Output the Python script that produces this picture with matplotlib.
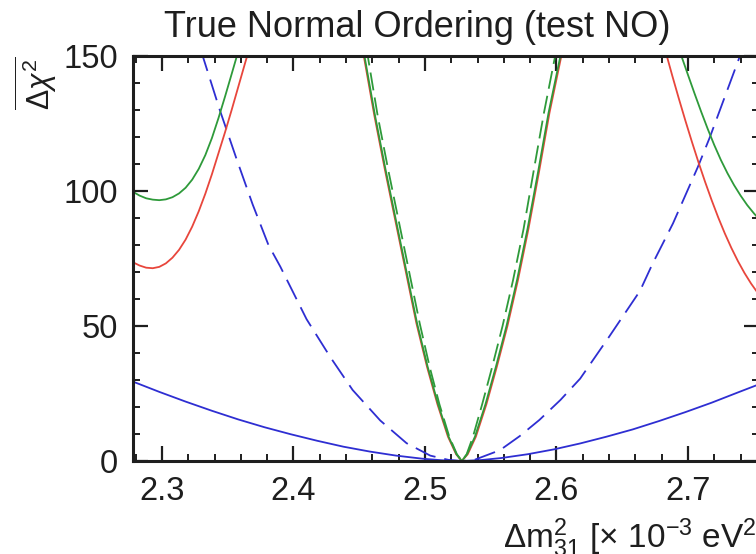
import matplotlib
matplotlib.use("Agg")
import matplotlib.pyplot as plt
from matplotlib.ticker import MultipleLocator

plt.rcParams["font.family"] = ["Liberation Sans", "DejaVu Sans"]
plt.rcParams["mathtext.fontset"] = "custom"
plt.rcParams["mathtext.rm"] = "Liberation Sans"
plt.rcParams["mathtext.it"] = "Liberation Sans:italic"
plt.rcParams["mathtext.bf"] = "Liberation Sans:bold"

# blue solid
blue_x = [2.278, 2.298, 2.318, 2.338, 2.358, 2.378, 2.398, 2.418, 2.438, 2.458,
          2.478, 2.498, 2.513, 2.528, 2.543, 2.558, 2.578, 2.598, 2.618, 2.638,
          2.658, 2.678, 2.698, 2.718, 2.738, 2.754]
blue_y = [29.4, 25.6, 22.0, 18.6, 15.4, 12.5, 9.9, 7.5, 5.3, 3.5,
          2.0, 0.85, 0.27, 0.0, 0.36, 1.1, 2.5, 4.3, 6.5, 9.0,
          11.7, 14.8, 18.1, 21.6, 25.4, 28.4]

# blue dashed
blued_x = [2.329, 2.331, 2.344, 2.357, 2.369, 2.381, 2.390, 2.410, 2.428, 2.445,
           2.466, 2.486, 2.504, 2.518, 2.528, 2.538, 2.557, 2.572, 2.587, 2.603,
           2.618, 2.640, 2.6635, 2.673, 2.6886, 2.7076, 2.7167, 2.7395, 2.741]
blued_y = [152, 150, 130, 111.5, 95, 80, 72, 52.5, 38.5, 26.3,
           15, 6.6, 2.0, 0.4, 0.0, 0.5, 4.0, 9.2, 15.2, 22.6,
           30.5, 46, 63, 73, 88, 109, 120, 150, 152]

# red solid: left lobe, central dip, right lobe
red_left_x = [2.278, 2.283, 2.288, 2.293, 2.298, 2.303, 2.308, 2.313, 2.318, 2.323,
              2.328, 2.333, 2.338, 2.343, 2.348, 2.353, 2.358, 2.363, 2.366]
red_left_y = [73.6, 72.4, 71.6, 71.4, 71.9, 73.2, 75.3, 78.2, 82.0, 86.8,
              92.5, 99.0, 106.2, 114.0, 121.8, 130.0, 138.5, 147.0, 152.0]
red_mid_x = [2.4515, 2.4535, 2.4615, 2.4695, 2.4775, 2.4855, 2.4935, 2.5015, 2.5095,
             2.5175, 2.5237, 2.528, 2.5325, 2.5387, 2.5467, 2.5547, 2.5627, 2.5707,
             2.5787, 2.5867, 2.5947, 2.6037, 2.6047]
red_mid_y = [153, 150, 128, 108, 89, 70, 51, 35, 21,
             9, 2.5, 0, 2.5, 9, 21, 35, 50, 67,
             86, 107, 129, 150, 153]
red_right_x = [2.683, 2.688, 2.693, 2.698, 2.703, 2.708, 2.713, 2.718, 2.723, 2.728,
               2.733, 2.738, 2.743, 2.748, 2.754]
red_right_y = [151.6, 142.8, 134.3, 126.1, 118.2, 110.6, 103.4, 96.6, 90.2, 84.3,
               78.9, 74.0, 69.6, 65.7, 61.6]

# green solid
green_left_x = [2.278, 2.283, 2.288, 2.293, 2.298, 2.303, 2.308, 2.313, 2.318,
                2.323, 2.328, 2.333, 2.338, 2.343, 2.348, 2.353, 2.358]
green_left_y = [99.7, 98.3, 97.3, 96.8, 96.6, 96.9, 97.7, 99.1, 101.2,
                104.2, 108.2, 113.3, 119.6, 127.0, 135.0, 143.3, 151.7]
green_mid_x = [2.452, 2.454, 2.462, 2.470, 2.478, 2.486, 2.494, 2.502, 2.510,
               2.518, 2.524, 2.528, 2.532, 2.538, 2.546, 2.554, 2.562, 2.570,
               2.578, 2.586, 2.594, 2.603, 2.604]
green_mid_y = [153, 150, 128, 108, 89, 70, 51, 35, 21,
               9, 2.5, 0, 2.5, 9, 21, 35, 50, 67,
               86, 107, 129, 150, 153]
green_right_x = [2.694, 2.695, 2.700, 2.705, 2.710, 2.715, 2.720, 2.725, 2.730,
                 2.735, 2.740, 2.745, 2.750, 2.754]
green_right_y = [151.5, 150.0, 143.0, 136.1, 129.4, 123.0, 117.0, 111.5, 106.6,
                 102.2, 98.3, 94.8, 91.8, 89.6]

# green dashed
greend_x = [2.4545, 2.4565, 2.464, 2.472, 2.480, 2.488, 2.496, 2.5035, 2.511,
            2.5185, 2.5243, 2.528, 2.5317, 2.5365, 2.5435, 2.5512, 2.559, 2.567,
            2.575, 2.5825, 2.5905, 2.599, 2.600]
greend_y = [153, 150, 128, 108, 89, 70, 51, 35, 21,
            9, 2.5, 0, 2.5, 9, 21, 35, 50, 67,
            86, 107, 129, 150, 153]

RED = "#e8463c"
GREEN = "#2e9a3a"
BLUE = "#2e2ed2"
INK = "#1e1e1e"

fig = plt.figure(figsize=(7.56, 5.54), dpi=100)
ax = fig.add_axes([133 / 756, 93 / 554, 626 / 756, 405 / 554])

lw = 1.3
ax.plot(blue_x, blue_y, color=BLUE, lw=lw)
ax.plot(blued_x, blued_y, color=BLUE, lw=lw, dashes=(12, 5))
for xs, ys in [(red_left_x, red_left_y), (red_mid_x, red_mid_y), (red_right_x, red_right_y)]:
    ax.plot(xs, ys, color=RED, lw=lw)
for xs, ys in [(green_left_x, green_left_y), (green_mid_x, green_mid_y), (green_right_x, green_right_y)]:
    ax.plot(xs, ys, color=GREEN, lw=lw)
ax.plot(greend_x, greend_y, color=GREEN, lw=lw, dashes=(10, 4))

ax.set_xlim(2.278, 2.754)
ax.set_ylim(0, 150)
ax.xaxis.set_major_locator(MultipleLocator(0.1))
ax.xaxis.set_minor_locator(MultipleLocator(0.02))
ax.yaxis.set_major_locator(MultipleLocator(50))
ax.yaxis.set_minor_locator(MultipleLocator(10))
ax.set_xticks([2.3, 2.4, 2.5, 2.6, 2.7])
ax.set_xticklabels(["2.3", "2.4", "2.5", "2.6", "2.7"])
ax.set_yticks([0, 50, 100, 150])
ax.set_yticklabels(["0", "50", "100", "150"])

for s in ax.spines.values():
    s.set_linewidth(2.2)
    s.set_color(INK)
ax.tick_params(which="both", direction="in", top=True, right=True, colors=INK,
               labelsize=23.5, pad=11)
ax.tick_params(which="major", length=10.5, width=1.6)
ax.tick_params(which="minor", length=5, width=1.4)

fig.text(417 / 756, 1 - 37 / 554, "True Normal Ordering (test NO)",
         ha="center", va="baseline", fontsize=26, color=INK)
fig.text(36 / 756, 1 - 83 / 554, r"$\overline{\Delta\chi^2}$", rotation=90,
         ha="center", va="center", fontsize=22, color=INK)
fig.text(503 / 756, 1 - 548 / 554, r"$\Delta$m$^2_{31}$ [$\times$ 10$^{-3}$ eV$^2$]",
         ha="left", va="baseline", fontsize=24, color=INK)

fig.savefig("out.png", dpi=100)
